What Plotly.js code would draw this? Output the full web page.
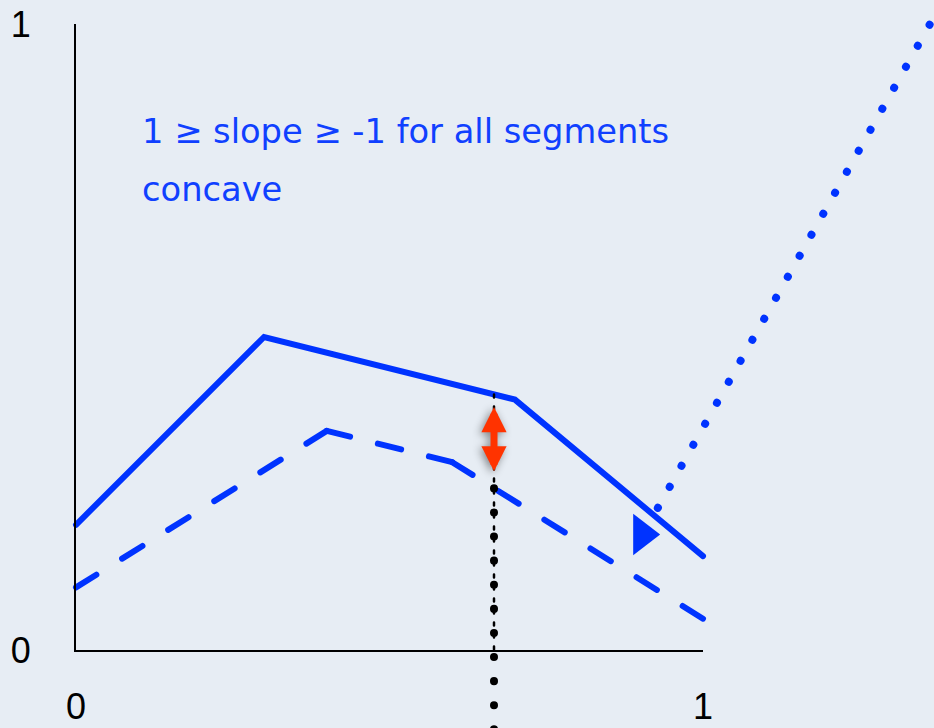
<!DOCTYPE html>
<html>
<head>
<meta charset="utf-8">
<script src="https://cdn.plot.ly/plotly-3.0.1.min.js"></script>
<style>
  html, body { margin: 0; padding: 0; background: #e7edf4; }
  #chart { width: 934px; height: 728px; }
</style>
</head>
<body>
<div id="chart"></div>
<script>
// Two piecewise-linear concave curves on the unit square
const upperX = [0, 0.3, 0.7, 1];
const upperY = [0.2, 0.5, 0.4, 0.15];
const lowerX = [0, 0.4, 0.6, 1];
const lowerY = [0.1, 0.35, 0.3, 0.05];

// Probe position and the ends of the red gap arrow between the curves
const probeX = [2 / 3];
const gapArrowY = [0.283, 0.388];

// Dotted blue ray and the triangle marker beside it
const rayX = [0.928, 1.38];
const rayY = [0.227, 1.032];
const markerX = [0.903];
const markerY = [0.1845];

// Axis ticks and the caption lines
const tickVals = [0, 1];
const tickText = ['0', '1'];
const notes = ['1 ≥ slope ≥ -1 for all segments', 'concave'];
const noteX = [0.102, 0.102];
const noteY = [0.829, 0.735];

// Lowest value reached by the long probe line (runs off the bottom edge)
const probeBottom = -0.14;

// Linear interpolation along a polyline
function valueAt(xs, ys, x) {
  for (let i = 0; i < xs.length - 1; i++) {
    if (x >= xs[i] && x <= xs[i + 1]) {
      const t = (x - xs[i]) / (xs[i + 1] - xs[i]);
      return ys[i] + t * (ys[i + 1] - ys[i]);
    }
  }
  return NaN;
}

const px = probeX[0];
const upperAtProbe = valueAt(upperX, upperY, px);
const lowerAtProbe = valueAt(lowerX, lowerY, px);

const BLUE = '#0033ff';
const W = 934, H = 728;
// pixel frame of the unit square
const x0 = 76, x1 = 703, y0 = 650, y1 = 24;
const ux = x1 - x0, uy = y0 - y1;

// Dashed curve: every segment starts and ends on a dash, gaps stretched to fit
const DASH = 24, PERIOD = 53;
function segmentDash(xa, ya, xb, yb) {
  const L = Math.hypot((xb - xa) * ux, (yb - ya) * uy);
  const n = Math.max(1, Math.round((L - DASH) / PERIOD));
  const gap = (L - (n + 1) * DASH) / n;
  return DASH + 'px,' + gap.toFixed(2) + 'px';
}

const traces = [
  { x: upperX, y: upperY, mode: 'lines', line: { color: BLUE, width: 6 }, hoverinfo: 'skip' }
];
for (let i = 0; i < lowerX.length - 1; i++) {
  traces.push({
    x: [lowerX[i], lowerX[i + 1]], y: [lowerY[i], lowerY[i + 1]], mode: 'lines',
    line: { color: BLUE, width: 6, dash: segmentDash(lowerX[i], lowerY[i], lowerX[i + 1], lowerY[i + 1]) },
    hoverinfo: 'skip'
  });
}
traces.push(
  { x: rayX, y: rayY, mode: 'lines', line: { color: BLUE, width: 8, dash: '0.1px,24px' }, hoverinfo: 'skip' },
  { x: [px, px], y: [upperAtProbe, 0], mode: 'lines', line: { color: '#000', width: 2.5, dash: '3px,9px' }, hoverinfo: 'skip' },
  { x: [px, px], y: [lowerAtProbe, probeBottom], mode: 'lines', line: { color: '#000', width: 8, dash: '0.1px,24px' }, hoverinfo: 'skip' },
  { x: markerX, y: markerY, mode: 'markers', marker: { symbol: 'triangle-right', size: 36, color: BLUE, line: { width: 0 } }, hoverinfo: 'skip' },
  // frame subplot carrying the visible axes
  { x: [], y: [], xaxis: 'x2', yaxis: 'y2', mode: 'lines', hoverinfo: 'skip' }
);

const tickFont = { family: 'Liberation Sans, Arial, sans-serif', size: 36, color: '#000' };

const layout = {
  width: W, height: H,
  margin: { l: 0, r: 0, t: 0, b: 0, pad: 0 },
  paper_bgcolor: '#e7edf4',
  plot_bgcolor: 'rgba(0,0,0,0)',
  showlegend: false,
  xaxis: { domain: [0, 1], range: [-x0 / ux, (W - x0) / ux], visible: false, fixedrange: true },
  yaxis: { domain: [0, 1], range: [-(H - y0) / uy, y0 / uy], visible: false, fixedrange: true },
  xaxis2: {
    domain: [x0 / W, x1 / W], range: [0, 1], anchor: 'y2',
    showline: true, linecolor: '#000', linewidth: 2, mirror: false,
    showgrid: false, zeroline: false, ticks: '',
    tickmode: 'array', tickvals: tickVals, ticktext: tickText,
    tickfont: tickFont, ticklabelstandoff: 24, fixedrange: true
  },
  yaxis2: {
    domain: [(H - y0) / H, (H - y1) / H], range: [0, 1], anchor: 'x2',
    showline: true, linecolor: '#000', linewidth: 2,
    showgrid: false, zeroline: false, ticks: '',
    tickmode: 'array', tickvals: tickVals, ticktext: tickText,
    tickfont: tickFont, ticklabelstandoff: 36, fixedrange: true
  },
  annotations: [
    {
      x: px, y: gapArrowY[1], ax: px, ay: gapArrowY[0],
      xref: 'x', yref: 'y', axref: 'x', ayref: 'y',
      text: '', showarrow: true, arrowside: 'end+start',
      arrowhead: 2, startarrowhead: 2, arrowsize: 0.72, startarrowsize: 0.72,
      arrowwidth: 7, arrowcolor: '#ff3300', standoff: 0, startstandoff: 0,
      font: { size: 1 }
    }
  ].concat(notes.map((t, i) => ({
    x: noteX[i], y: noteY[i], xref: 'x', yref: 'y',
    text: t, showarrow: false, xanchor: 'left', yanchor: 'middle',
    font: { family: 'DejaVu Sans, sans-serif', size: 33.7, color: '#1040ff' }
  })))
};

Plotly.newPlot('chart', traces, layout, { staticPlot: true, displayModeBar: false }).then(gd => {
  // rounded ends for the dashes and dots
  gd.querySelectorAll('.scatterlayer .trace path.js-line').forEach(p => {
    p.style.strokeLinecap = 'round';
  });
  // soft shadow under the red gap arrow
  gd.querySelectorAll('.annotation-arrow-g').forEach(g => {
    g.style.filter = 'drop-shadow(-2px 2px 4px rgba(0,0,0,0.45))';
  });
});
</script>
</body>
</html>
